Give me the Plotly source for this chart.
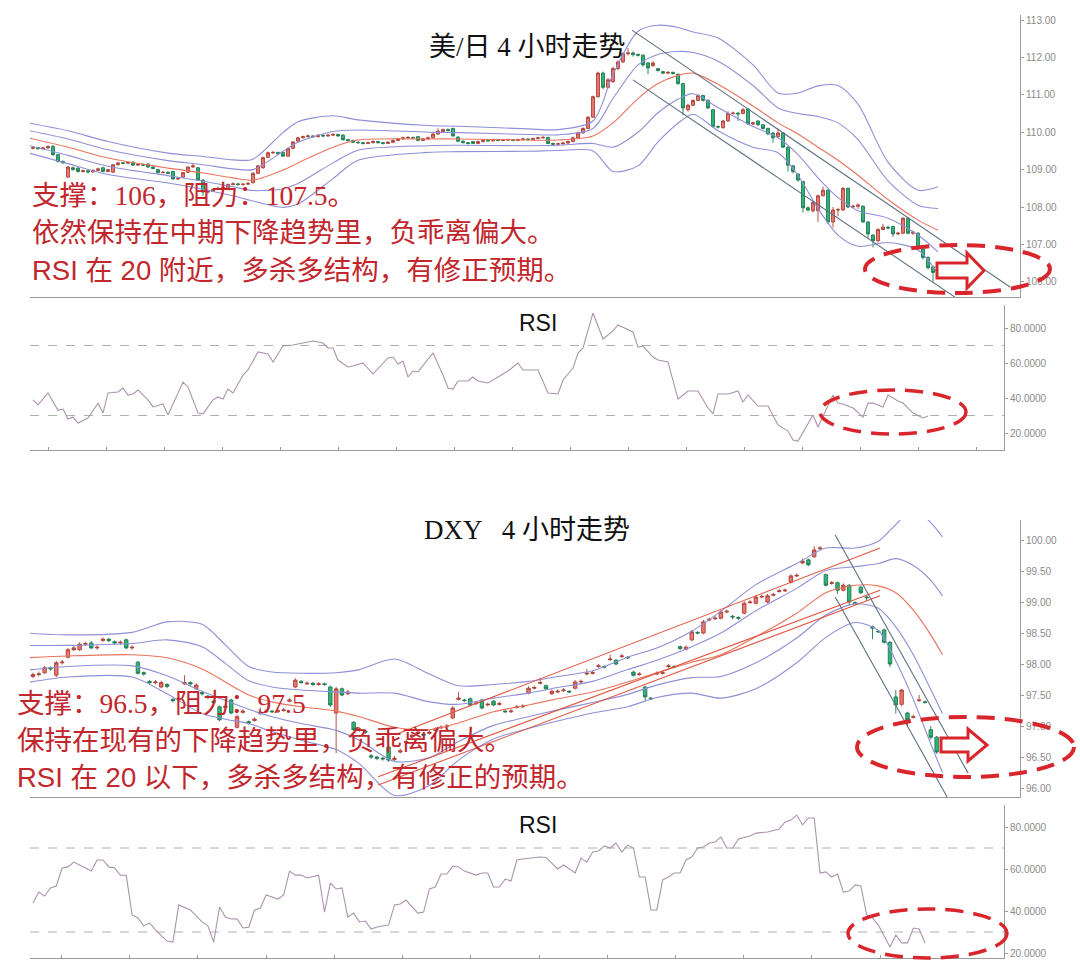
import plotly.graph_objects as go

# ======================= USD/JPY 4H =======================
jpy_open = [109.57,109.59,109.56,109.58,109.62,109.40,109.22,108.80,109.05,109.04,
            108.95,108.97,108.94,108.98,109.05,108.95,108.93,109.13,109.18,109.17,
            109.20,109.12,109.14,109.15,109.07,109.00,108.92,108.93,108.95,108.75,
            108.80,108.93,109.07,109.05,108.72,108.40,108.42,108.47,108.50,108.50,
            108.60,108.62,108.60,108.61,108.65,108.90,109.05,109.33,109.45,109.46,
            109.46,109.36,109.57,109.76,109.85,109.88,109.90,109.88,109.92,109.90,
            109.92,109.94,109.92,109.80,109.78,109.73,109.72,109.70,109.72,109.75,
            109.72,109.70,109.73,109.78,109.82,109.85,109.86,109.88,109.78,109.82,
            109.85,109.95,110.00,110.07,110.10,109.87,109.76,109.72,109.75,109.70,
            109.75,109.78,109.77,109.80,109.78,109.79,109.80,109.78,109.80,109.82,
            109.80,109.83,109.85,109.86,109.70,109.68,109.69,109.71,109.75,109.85,
            109.98,110.10,110.40,110.95,111.58,111.20,111.35,111.70,111.88,112.10,
            112.12,112.08,112.06,111.85,111.78,111.70,111.62,111.58,111.60,111.55,
            111.30,110.60,110.72,110.85,110.98,110.85,110.60,110.15,110.12,110.30,
            110.50,110.51,110.50,110.62,110.22,110.30,110.20,110.10,109.98,109.88,
            109.98,109.60,109.10,108.88,108.68,107.98,107.90,107.90,108.30,108.45,
            107.60,107.92,107.92,108.50,108.00,108.02,108.02,107.60,107.25,107.10,
            107.40,107.46,107.48,107.28,107.30,107.70,107.30,107.30,106.88,106.65,106.40]
jpy_close = [109.59,109.56,109.58,109.62,109.40,109.22,109.18,109.07,109.00,108.95,
             108.97,108.94,108.98,109.02,108.95,109.00,109.13,109.18,109.17,109.19,
             109.12,109.14,109.12,109.07,109.03,108.92,108.93,108.90,108.75,108.77,
             108.92,109.07,109.10,108.72,108.40,108.42,108.47,108.50,108.53,108.60,
             108.62,108.60,108.61,108.63,108.90,109.10,109.32,109.45,109.46,109.42,
             109.36,109.56,109.74,109.85,109.88,109.90,109.88,109.92,109.90,109.92,
             109.94,109.90,109.80,109.78,109.73,109.72,109.70,109.72,109.75,109.72,
             109.70,109.73,109.78,109.82,109.85,109.86,109.85,109.78,109.82,109.85,
             109.95,110.03,110.07,110.05,109.90,109.76,109.72,109.70,109.70,109.75,
             109.78,109.77,109.80,109.78,109.79,109.80,109.78,109.80,109.82,109.80,
             109.83,109.85,109.86,109.70,109.68,109.69,109.71,109.75,109.85,109.98,
             110.10,110.40,110.95,111.58,111.20,111.40,111.70,111.88,112.10,112.12,
             112.08,112.06,111.80,111.72,111.85,111.65,111.58,111.60,111.57,111.30,
             110.65,110.72,110.85,110.98,110.85,110.65,110.15,110.14,110.30,110.50,
             110.51,110.49,110.60,110.22,110.25,110.20,110.10,109.95,109.85,109.98,
             109.60,109.12,108.95,108.72,107.98,107.92,108.12,108.30,108.45,107.60,
             107.92,107.93,108.50,108.00,108.02,108.05,107.60,107.28,107.10,107.40,
             107.46,107.44,107.28,107.30,107.70,107.30,107.33,106.90,106.65,106.38,106.25]
jpy_high = [109.62,109.61,109.61,109.65,109.66,109.42,109.24,109.10,109.08,109.06,
            109.00,108.99,109.01,109.05,109.07,109.02,109.15,109.21,109.20,109.22,
            109.22,109.17,109.16,109.17,109.09,109.02,108.96,108.95,108.97,108.80,
            108.94,109.09,109.15,109.07,108.74,108.46,108.50,108.55,108.56,108.63,
            108.66,108.64,108.64,108.67,108.93,109.12,109.35,109.48,109.50,109.48,
            109.48,109.58,109.76,109.88,109.91,109.94,109.92,109.95,109.94,109.96,
            109.97,109.96,109.95,109.82,109.80,109.76,109.74,109.75,109.78,109.77,
            109.74,109.76,109.81,109.85,109.88,109.90,109.88,109.90,109.85,109.88,
            109.98,110.10,110.10,110.10,110.12,109.89,109.78,109.74,109.77,109.78,
            109.81,109.80,109.83,109.82,109.82,109.83,109.82,109.83,109.85,109.84,
            109.86,109.88,109.90,109.88,109.72,109.72,109.74,109.78,109.88,110.02,
            110.13,110.43,110.98,111.62,111.62,111.45,111.75,111.92,112.14,112.25,
            112.16,112.10,112.08,111.88,111.90,111.72,111.64,111.63,111.62,111.57,
            111.32,110.76,110.88,111.02,111.00,110.88,110.62,110.18,110.33,110.56,
            110.55,110.54,110.65,110.64,110.28,110.32,110.22,110.12,110.00,110.10,
            110.00,109.62,109.12,108.90,108.70,108.02,108.15,108.33,108.55,108.48,
            108.00,107.98,108.53,108.52,108.06,108.10,108.05,107.62,107.27,107.43,
            107.55,107.50,107.50,107.34,107.73,107.73,107.37,107.33,106.90,106.68,106.43]
jpy_low = [109.54,109.53,109.54,109.56,109.37,109.19,109.15,108.78,108.97,108.92,
           108.92,108.90,108.92,108.96,108.93,108.93,108.91,109.11,109.15,109.15,
           109.10,109.10,109.10,109.05,109.01,108.90,108.90,108.88,108.73,108.72,
           108.78,108.91,109.05,108.70,108.30,108.36,108.40,108.45,108.48,108.48,
           108.58,108.57,108.57,108.59,108.63,108.88,109.02,109.31,109.42,109.40,
           109.34,109.34,109.55,109.74,109.83,109.86,109.85,109.86,109.87,109.88,
           109.90,109.88,109.78,109.75,109.71,109.69,109.67,109.68,109.70,109.70,
           109.67,109.68,109.71,109.76,109.80,109.83,109.82,109.76,109.76,109.80,
           109.83,109.93,109.98,110.02,109.88,109.74,109.70,109.67,109.68,109.68,
           109.73,109.75,109.75,109.76,109.76,109.77,109.76,109.76,109.78,109.78,
           109.78,109.81,109.83,109.68,109.65,109.64,109.67,109.69,109.73,109.83,
           109.96,110.08,110.38,110.92,111.15,111.17,111.32,111.66,111.85,112.05,
           112.02,112.02,111.75,111.55,111.75,111.62,111.55,111.55,111.54,111.27,
           110.45,110.55,110.70,110.83,110.82,110.62,110.12,110.10,110.10,110.28,
           110.47,110.30,110.48,110.20,110.19,110.17,110.07,109.93,109.72,109.86,
           109.58,108.95,108.90,108.68,107.85,107.88,107.85,107.60,108.28,107.55,
           107.45,107.75,107.90,107.97,107.97,107.95,107.58,107.15,106.92,107.05,
           107.38,107.40,107.20,107.25,107.28,107.27,107.25,106.85,106.60,106.33,106.00]

jpy_band_bar = [-1, 7, 15, 27, 34, 40, 44, 50, 53, 60, 65, 79, 85, 99, 105, 112,
                116, 121, 125, 129, 132, 137, 144, 149, 153, 157, 161, 165, 171, 177, 181]
jpy_bb_up2 = [110.25, 110.04, 109.75, 109.44, 109.35, 109.26, 109.28, 109.99, 110.28, 110.44, 110.33,
              110.18, 110.16, 110.09, 110.07, 110.30, 111.55, 112.70, 112.86, 112.80, 112.68, 112.52,
              111.80, 111.05, 111.05, 111.24, 111.25, 110.75, 109.20, 108.45, 108.54]
jpy_bb_up1 = [110.05, 109.82, 109.53, 109.24, 109.13, 109.02, 109.00, 109.49, 109.73, 110.02, 110.06,
              110.00, 109.99, 109.94, 109.93, 110.10, 110.90, 111.80, 112.08, 112.16, 112.13, 111.90,
              111.25, 110.65, 110.50, 110.42, 110.25, 109.80, 108.70, 108.05, 107.96]
jpy_ma = [109.85, 109.60, 109.31, 109.04, 108.91, 108.78, 108.72, 108.99, 109.18, 109.60, 109.79,
          109.82, 109.82, 109.79, 109.79, 109.90, 110.25, 110.90, 111.30, 111.52, 111.58, 111.28,
          110.70, 110.25, 109.95, 109.60, 109.25, 108.85, 108.20, 107.65, 107.38]
jpy_bb_dn1 = [109.65, 109.38, 109.09, 108.84, 108.69, 108.54, 108.44, 108.49, 108.63, 109.18, 109.52,
              109.64, 109.65, 109.64, 109.65, 109.70, 109.60, 110.00, 110.52, 110.88, 111.03, 110.66,
              110.15, 109.85, 109.40, 108.78, 108.25, 107.90, 107.70, 107.25, 106.80]
jpy_bb_dn2 = [109.45, 109.16, 108.87, 108.64, 108.47, 108.30, 108.16, 107.99, 108.08, 108.76, 109.25,
              109.46, 109.48, 109.49, 109.51, 109.50, 108.95, 109.10, 109.74, 110.24, 110.48, 110.04,
              109.60, 109.45, 108.85, 107.96, 107.25, 106.95, 107.05, 106.85, 106.22]

jpy_channel_bar = [[119.8, 195.4], [120.0, 184.4]]
jpy_channel_val = [[112.73, 105.86], [111.40, 105.59]]

jpy_rsi_bar = [0,1,3,5,6,7,8,9,11,13,14,15,17,18,19,20,21,23,24,26,27,30,31,33,34,36,37,38,39,40,
               42,43,45,47,48,50,52,54,56,58,59,60,61,63,64,66,68,71,72,73,74,75,76,77,80,82,83,84,85,87,
               88,89,91,93,95,97,98,101,103,105,106,108,109,110,112,114,116,117,120,121,122,124,125,127,
               129,131,133,135,136,137,139,141,142,143,145,147,148,149,151,152,153,156,157,160,161,162,
               164,166,167,168,170,171,173,174,176,178,179]
jpy_rsi = [38.9,36,42.9,33,33.7,28,29,25.7,28.6,37,31.4,42.9,43.4,45.7,41.7,42.3,44.6,38.9,34.9,36.6,
           30.3,49.1,46.3,31.4,30.9,38.9,40.6,39.4,45.1,42.9,53.1,56,66.3,65.1,60.6,69.7,70.3,71.4,72.6,71.4,
           68.6,68.6,61.7,57.7,58.3,60,53.7,62.9,63.4,59.4,61.1,52,55.4,54.9,65.7,53.1,45.7,45.1,49.7,49.7,
           52,49.7,48.6,52,55.4,60,56,56,42.9,42.3,50.3,57.1,65.7,68.6,88.6,73.7,78.3,81.7,77.7,69.1,
           69.7,63.4,61.7,60.6,39.4,44,44,34.3,30.9,42.3,42.3,44,37.7,41.7,35.4,35.4,30.3,24.6,21.1,16,
           15.4,30.3,23.4,41.7,37.1,36.6,34.3,29.1,37.1,37.1,34.9,41.7,38.3,37.1,31.4,28.6,29.7]

# ======================= DXY 4H =======================
dxy_open = [97.80,97.83,97.86,97.94,97.82,98.02,98.11,98.23,98.23,98.32,
            98.34,98.26,98.38,98.40,98.36,98.34,98.39,98.26,98.03,97.86,
            97.72,97.70,97.63,97.67,97.43,97.42,97.68,97.70,97.60,97.54,
            97.48,97.40,97.31,97.30,97.42,96.98,97.22,97.07,97.09,97.20,
            97.23,97.24,97.23,97.25,97.40,97.63,97.72,97.68,97.69,97.67,
            97.68,97.63,97.21,97.60,97.52,97.06,96.94,96.92,96.52,96.50,
            96.48,96.66,96.46,96.58,96.73,96.83,96.88,96.87,96.88,96.93,
            96.97,96.99,97.13,97.43,97.42,97.44,97.36,97.42,97.34,97.40,
            97.35,97.24,97.23,97.30,97.31,97.53,97.61,97.69,97.65,97.52,
            97.55,97.57,97.56,97.61,97.71,97.84,97.85,97.96,97.96,98.07,
            98.06,98.12,98.11,97.87,97.83,97.63,97.45,97.84,97.85,97.96,
            97.96,98.28,98.24,98.39,98.51,98.50,98.71,98.73,98.74,98.84,
            98.77,98.75,98.82,98.99,98.98,99.08,99.00,99.11,99.17,99.18,
            99.32,99.42,99.63,99.68,99.73,99.86,99.44,99.30,99.31,99.19,
            99.27,98.99,99.24,99.08,98.60,98.53,98.55,98.35,97.47,97.35,
            97.21,97.14,97.41,97.39,96.94,96.82]
dxy_close = [97.83,97.84,97.94,97.92,98.02,98.03,98.23,98.26,98.32,98.33,
             98.26,98.27,98.40,98.38,98.34,98.35,98.26,98.27,97.85,97.84,
             97.70,97.71,97.70,97.64,97.41,97.45,97.70,97.68,97.66,97.52,
             97.46,97.38,97.10,97.32,97.21,97.15,97.24,97.05,97.11,97.22,
             97.24,97.23,97.25,97.26,97.42,97.74,97.70,97.69,97.67,97.68,
             97.67,97.34,97.60,97.50,97.55,96.94,96.95,96.90,96.50,96.48,
             96.47,96.45,96.48,96.60,96.75,96.85,96.90,96.85,96.90,96.95,
             96.98,97.00,97.29,97.45,97.41,97.34,97.37,97.29,97.35,97.34,
             97.36,97.23,97.24,97.31,97.32,97.61,97.62,97.70,97.60,97.56,
             97.56,97.58,97.55,97.71,97.72,97.85,97.86,97.97,97.95,98.08,
             98.00,98.13,98.10,97.82,97.84,97.47,97.44,97.85,97.86,97.97,
             97.95,98.25,98.27,98.52,98.50,98.68,98.72,98.74,98.84,98.85,
             98.76,98.74,98.98,99.00,99.08,99.09,99.10,99.12,99.18,99.19,
             99.42,99.43,99.66,99.60,99.84,99.87,99.27,99.31,99.19,99.27,
             99.00,98.98,99.15,99.07,98.58,98.52,98.35,98.00,97.34,97.58,
             97.10,97.15,97.42,97.38,96.82,96.58]
dxy_high = [97.86,97.88,97.97,97.96,98.05,98.07,98.26,98.29,98.35,98.36,
            98.37,98.30,98.43,98.42,98.38,98.38,98.41,98.30,98.05,97.88,
            97.74,97.74,97.73,97.69,97.45,97.48,97.82,97.72,97.69,97.56,
            97.50,97.42,97.33,97.35,97.44,97.18,97.27,97.09,97.14,97.30,
            97.27,97.26,97.28,97.29,97.45,97.77,97.74,97.72,97.71,97.71,
            97.70,97.65,97.63,97.62,97.58,97.08,96.98,96.94,96.55,96.52,
            96.50,96.68,96.52,96.63,96.78,96.88,96.93,96.89,96.93,96.98,
            97.01,97.03,97.32,97.55,97.44,97.46,97.40,97.44,97.38,97.42,
            97.39,97.26,97.27,97.34,97.35,97.64,97.65,97.78,97.67,97.59,
            97.59,97.61,97.58,97.74,97.75,97.92,97.89,98.00,97.98,98.15,
            98.08,98.16,98.13,97.89,97.87,97.65,97.47,97.88,97.89,98.00,
            97.98,98.30,98.30,98.55,98.53,98.71,98.75,98.77,98.87,98.88,
            98.79,98.77,99.01,99.03,99.11,99.12,99.13,99.15,99.21,99.22,
            99.45,99.46,99.70,99.70,99.90,99.90,99.46,99.34,99.33,99.30,
            99.29,99.01,99.26,99.10,98.62,98.55,98.57,98.37,97.58,97.60,
            97.23,97.18,97.50,97.41,97.00,96.84]
dxy_low = [97.77,97.80,97.84,97.89,97.79,97.99,98.09,98.21,98.21,98.29,
           98.24,98.23,98.36,98.35,98.31,98.31,98.24,98.23,97.83,97.81,
           97.67,97.67,97.61,97.61,97.38,97.40,97.66,97.65,97.58,97.49,
           97.43,97.35,97.08,97.28,97.19,96.96,97.20,97.02,97.07,97.18,
           97.21,97.21,97.21,97.23,97.38,97.61,97.68,97.66,97.65,97.65,
           97.65,97.31,96.56,97.48,97.50,96.92,96.91,96.87,96.47,96.45,
           96.44,96.42,96.43,96.56,96.71,96.81,96.86,96.83,96.86,96.91,
           96.95,96.97,97.11,97.41,97.39,97.32,97.34,97.27,97.32,97.32,
           97.33,97.21,97.21,97.28,97.29,97.51,97.59,97.67,97.58,97.50,
           97.53,97.55,97.53,97.59,97.69,97.82,97.83,97.94,97.93,98.05,
           97.98,98.10,98.08,97.80,97.81,97.40,97.42,97.82,97.83,97.94,
           97.93,98.22,98.22,98.37,98.48,98.48,98.69,98.71,98.72,98.82,
           98.72,98.71,98.80,98.97,98.96,99.06,98.98,99.09,99.15,99.16,
           99.30,99.40,99.61,99.58,99.71,99.84,99.25,99.28,99.13,99.17,
           98.95,98.96,99.13,99.02,98.40,98.50,98.33,97.95,97.20,97.32,
           97.00,97.12,97.39,97.36,96.78,96.55]

dxy_band_bar = [-1, 6, 17, 23, 29, 33, 37, 41, 46, 52, 56, 62, 68, 73, 79, 85, 90, 96, 102, 107,
                113, 118, 124, 131, 136, 141, 145, 148, 151, 154, 156]
dxy_bb_up2 = [98.50, 98.47, 98.51, 98.68, 98.64, 98.31, 97.96, 97.87, 97.85, 97.86, 97.91, 98.08, 97.84,
              97.65, 97.67, 97.72, 97.80, 97.89, 98.11, 98.26, 98.53, 98.85, 99.28, 99.62, 99.87, 99.87,
              99.98, 100.25, 100.50, 100.28, 100.05]
dxy_bb_up1 = [98.30, 98.30, 98.33, 98.39, 98.28, 98.01, 97.73, 97.63, 97.58, 97.55, 97.53, 97.53, 97.39,
              97.35, 97.45, 97.53, 97.62, 97.72, 97.91, 98.06, 98.28, 98.50, 98.86, 99.22, 99.51, 99.57,
              99.62, 99.70, 99.59, 99.35, 99.10]
dxy_ma = [98.10, 98.13, 98.15, 98.10, 97.92, 97.71, 97.50, 97.39, 97.31, 97.24, 97.15, 96.98, 96.94,
          97.05, 97.23, 97.34, 97.44, 97.55, 97.71, 97.86, 98.03, 98.15, 98.44, 98.82, 99.15, 99.27,
          99.26, 99.15, 98.87, 98.47, 98.15]
dxy_bb_dn1 = [97.90, 97.96, 97.97, 97.81, 97.56, 97.41, 97.27, 97.15, 97.04, 96.93, 96.77, 96.43, 96.49,
              96.75, 97.01, 97.15, 97.26, 97.38, 97.51, 97.66, 97.78, 97.80, 98.02, 98.42, 98.79, 98.97,
              98.90, 98.60, 98.15, 97.59, 97.20]
dxy_bb_dn2 = [97.70, 97.79, 97.79, 97.52, 97.20, 97.11, 97.04, 96.91, 96.77, 96.62, 96.39, 95.88, 96.04,
              96.45, 96.79, 96.96, 97.08, 97.21, 97.31, 97.46, 97.53, 97.45, 97.60, 98.02, 98.43, 98.67,
              98.54, 98.05, 97.43, 96.71, 96.25]

dxy_trend_bar = [[62.1, 145.3], [59.2, 145.3], [59.2, 145.3]]
dxy_trend_val = [[96.86, 99.87], [96.18, 99.19], [96.05, 99.10]]
dxy_channel_bar = [[137.6, 160.4], [137.6, 156.8]]
dxy_channel_val = [[100.08, 96.24], [99.08, 95.855]]

dxy_rsi_bar = [0,1,2,3,4,5,6,7,8,10,11,12,13,14,15,16,17,18,19,20,21,23,24,25,27,29,30,31,32,33,
               34,35,36,37,38,39,40,42,43,44,45,46,47,49,50,51,52,53,54,55,56,57,58,59,61,62,63,64,66,67,
               68,69,70,71,72,73,74,76,77,78,79,80,81,82,83,84,87,88,90,91,93,94,95,96,97,98,99,100,101,102,
               103,104,105,106,107,108,109,110,111,112,113,114,115,116,117,118,119,120,121,123,
               124,126,128,129,130,131,132,133,134,135,136,137,138,139,140,141,142,143,144,145,
               147,148,149,150,151,152,153]
dxy_rsi = [43.8,49,47.1,51,51.9,60.5,61,63.3,61.9,59,64.3,64.3,61,60.5,57.1,57,38.1,36.7,32.9,34.3,
           31,25.7,25.2,42.9,40.5,34.8,32.9,25.2,41.9,37.1,36.2,36.3,31.9,32.3,40.5,41.4,47.6,45.7,47.6,59,
           57.1,57.1,55.7,57.1,39.5,53.3,50.5,51,37.1,39,34.8,35.2,31.4,32.4,33.3,42.9,43.3,45.2,39,39.5,
           50.5,51.4,57.6,57.6,61.4,61,59,57.1,58.1,58.1,51.4,51.4,55.2,54.3,64.3,64.8,65.7,65.5,60,61.9,
           58.1,65.2,63.3,68.1,68.6,71,70,72.4,68.1,71.4,70,56.2,56.2,40.5,40.5,54.8,56.2,58.1,58.1,64.3,
           65.7,70,70.5,72.4,72.9,75.2,70,70,74.3,75.7,77.1,77.6,79,82.4,83.3,85.7,81,84.3,84.3,58.1,
           58.6,56.2,57.6,49,49.5,52.4,51.9,38.1,36.7,33.3,22.9,28.6,24.8,24.8,31.9,31.4,24.8]

jpy_price_ticks = [106, 107, 108, 109, 110, 111, 112, 113]
dxy_price_ticks = [96.0, 96.5, 97.0, 97.5, 98.0, 98.5, 99.0, 99.5, 100.0]
rsi_ticks = [20, 40, 60, 80]
rsi_levels = [70, 30]

jpy_title = "美/日 4 小时走势"
dxy_title = "DXY   4 小时走势"
rsi_title = "RSI"
jpy_notes = ["支撑：106，阻力：107.5。", "依然保持在中期下降趋势里，负乖离偏大。",
             "RSI 在 20 附近，多杀多结构，有修正预期。"]
dxy_notes = ["支撑：96.5，阻力：97.5", "保持在现有的下降趋势里，负乖离偏大。",
             "RSI 在 20 以下，多杀多结构，有修正的预期。"]

# ======================= styling / layout helpers =======================
W, H = 1080, 980
def px(x): return x / W
def py(y): return 1 - y / H

BAND = "#8f8fd8"
MA = "#e8745c"
TREND = "#e0553f"
CHAN = "#5e7182"
RSI_C = "#ab93ae"
NOTE = "#c1272d"
SERIF = "Liberation Serif, Noto Sans CJK SC, serif"
SANS = "Liberation Sans, Noto Sans CJK SC, sans-serif"

fig = go.Figure()

def add_bands(bar, lines, xa, ya):
    colors = [BAND, BAND, MA, BAND, BAND]
    for vals, c in zip(lines, colors):
        fig.add_trace(go.Scatter(x=bar, y=vals, mode="lines", xaxis=xa, yaxis=ya,
                                 line=dict(color=c, width=1.1, shape="spline", smoothing=0.8),
                                 hoverinfo="skip", showlegend=False))

def add_segments(bars, vals, color, xa, ya):
    for b, v in zip(bars, vals):
        fig.add_trace(go.Scatter(x=b, y=v, mode="lines", xaxis=xa, yaxis=ya,
                                 line=dict(color=color, width=1.1),
                                 hoverinfo="skip", showlegend=False))

def add_candles(o, h, l, c, xa, ya):
    n = min(len(o), len(h), len(l), len(c))
    fig.add_trace(go.Candlestick(
        x=list(range(n)), open=o[:n], high=h[:n], low=l[:n], close=c[:n],
        xaxis=xa, yaxis=ya, whiskerwidth=0,
        increasing=dict(line=dict(color="#ad3f37", width=0.9), fillcolor="#e8776f"),
        decreasing=dict(line=dict(color="#1f7a4f", width=0.9), fillcolor="#31b27a"),
        hoverinfo="skip", showlegend=False))

# Panel 1: USD/JPY price
add_bands(jpy_band_bar, [jpy_bb_up2, jpy_bb_up1, jpy_ma, jpy_bb_dn1, jpy_bb_dn2], "x", "y")
add_segments(jpy_channel_bar, jpy_channel_val, CHAN, "x", "y")
add_candles(jpy_open, jpy_high, jpy_low, jpy_close, "x", "y")

# Panel 2: USD/JPY RSI
fig.add_trace(go.Scatter(x=jpy_rsi_bar, y=jpy_rsi, mode="lines", xaxis="x2", yaxis="y2",
                         line=dict(color=RSI_C, width=1.1), hoverinfo="skip", showlegend=False))

# Panel 3: DXY price
add_bands(dxy_band_bar, [dxy_bb_up2, dxy_bb_up1, dxy_ma, dxy_bb_dn1, dxy_bb_dn2], "x3", "y3")
add_segments(dxy_trend_bar, dxy_trend_val, TREND, "x3", "y3")
add_segments(dxy_channel_bar, dxy_channel_val, CHAN, "x3", "y3")
add_candles(dxy_open, dxy_high, dxy_low, dxy_close, "x3", "y3")

# Panel 4: DXY RSI
fig.add_trace(go.Scatter(x=dxy_rsi_bar, y=dxy_rsi, mode="lines", xaxis="x4", yaxis="y4",
                         line=dict(color=RSI_C, width=1.1), hoverinfo="skip", showlegend=False))

axis_common = dict(showgrid=False, zeroline=False, showline=True, linecolor="#9a9a9a", linewidth=1)
ytick_font = dict(family="Liberation Sans, Arial, sans-serif", size=10, color="#8a8a8a")

price_x_dom = [px(30), px(1020)]
rsi_x_dom = [px(30), px(1004)]

fig.update_layout(
    width=W, height=H, margin=dict(l=0, r=0, t=0, b=0),
    paper_bgcolor="white", plot_bgcolor="white", showlegend=False, boxgap=0.15,
    xaxis=dict(domain=price_x_dom, range=[-0.6, 197.4], anchor="y", showticklabels=False,
               ticks="", rangeslider=dict(visible=False), **axis_common),
    yaxis=dict(domain=[py(297), py(15)], range=[105.594, 113.134], anchor="x", side="right",
               tickvals=jpy_price_ticks, tickformat=".2f", ticks="outside", ticklen=3,
               tickcolor="#9a9a9a", tickfont=ytick_font, **axis_common),
    xaxis2=dict(domain=rsi_x_dom, range=[-0.6, 194.2], anchor="y2", showticklabels=False,
                ticks="inside", ticklen=3, tickcolor="#9a9a9a", tick0=3, dtick=11.6, **axis_common),
    yaxis2=dict(domain=[py(450), py(305)], range=[10.29, 93.14], anchor="x2", side="right",
                tickvals=rsi_ticks, tickformat=".4f", ticks="outside", ticklen=3,
                tickcolor="#9a9a9a", tickfont=ytick_font, **axis_common),
    xaxis3=dict(domain=price_x_dom, range=[-0.51, 169.3], anchor="y3", showticklabels=False,
                ticks="", rangeslider=dict(visible=False), **axis_common),
    yaxis3=dict(domain=[py(797), py(520)], range=[95.855, 100.323], anchor="x3", side="right",
                tickvals=dxy_price_ticks, tickformat=".2f", ticks="outside", ticklen=3,
                tickcolor="#9a9a9a", tickfont=ytick_font, **axis_common),
    xaxis4=dict(domain=rsi_x_dom, range=[-0.51, 166.55], anchor="y4", showticklabels=False,
                ticks="inside", ticklen=3, tickcolor="#9a9a9a", tick0=16.6, dtick=11.7, **axis_common),
    yaxis4=dict(domain=[py(958), py(805)], range=[17.62, 90.48], anchor="x4", side="right",
                tickvals=rsi_ticks, tickformat=".4f", ticks="outside", ticklen=3,
                tickcolor="#9a9a9a", tickfont=ytick_font, **axis_common),
)

shapes = []
# RSI 70 / 30 reference lines
for xa, ya in (("x2", "y2"), ("x4", "y4")):
    for lv in rsi_levels:
        shapes.append(dict(type="line", xref=xa + " domain", x0=0, x1=1, yref=ya, y0=lv, y1=lv,
                           line=dict(color="#b0b0b0", width=1, dash="dash"), layer="below"))

# red dashed ellipses
RED = "#d8262c"
for (x0, x1, y0, y1, w) in [(865, 1050, 245, 293, 4), (820, 966, 390, 434, 3.5),
                             (857, 1074, 717, 777, 4), (848, 1007, 909, 958, 3.5)]:
    shapes.append(dict(type="circle", xref="paper", yref="paper",
                       x0=px(x0), x1=px(x1), y0=py(y1), y1=py(y0),
                       line=dict(color=RED, width=w, dash="18px,10px")))

# hollow red arrows
def arrow_path(xs, xh, xt, ys0, ys1, yh0, yh1):
    yc = (yh0 + yh1) / 2
    pts = [(xs, ys0), (xh, ys0), (xh, yh0), (xt, yc), (xh, yh1), (xh, ys1), (xs, ys1)]
    return "M " + " L ".join(f"{px(a):.5f},{py(b):.5f}" for a, b in pts) + " Z"

for args in [(937, 967, 984, 263, 278, 253, 288), (941, 968, 987, 738, 752, 729, 761)]:
    shapes.append(dict(type="path", xref="paper", yref="paper", path=arrow_path(*args),
                       fillcolor="white", line=dict(color=RED, width=3)))
fig.update_layout(shapes=shapes)

ann = []
ann.append(dict(text=jpy_title, x=px(527), y=py(47), font=dict(family=SERIF, size=27, color="#111")))
ann.append(dict(text=dxy_title, x=px(527), y=py(530), font=dict(family=SERIF, size=27, color="#111")))
ann.append(dict(text=rsi_title, x=px(538), y=py(323), font=dict(family=SANS, size=23, color="#111")))
ann.append(dict(text=rsi_title, x=px(538), y=py(825), font=dict(family=SANS, size=23, color="#111")))
for i, (t, yy) in enumerate(zip(jpy_notes, [196, 233, 270])):
    ann.append(dict(text=t, x=px(30), y=py(yy), xanchor="left",
                    font=dict(family=SANS if i == 2 else SERIF, size=27.5, color=NOTE)))
for i, (t, yy) in enumerate(zip(dxy_notes, [703, 740, 777])):
    ann.append(dict(text=t, x=px(15), y=py(yy), xanchor="left",
                    font=dict(family=SANS if i == 2 else SERIF, size=27.5, color=NOTE)))
for a in ann:
    a.update(xref="paper", yref="paper", showarrow=False, yanchor="middle")
    a.setdefault("xanchor", "center")
fig.update_layout(annotations=ann)

fig.write_html("out.html", config={"displayModeBar": False},
               post_script="document.body.style.margin='0px';document.body.style.overflow='hidden';")
